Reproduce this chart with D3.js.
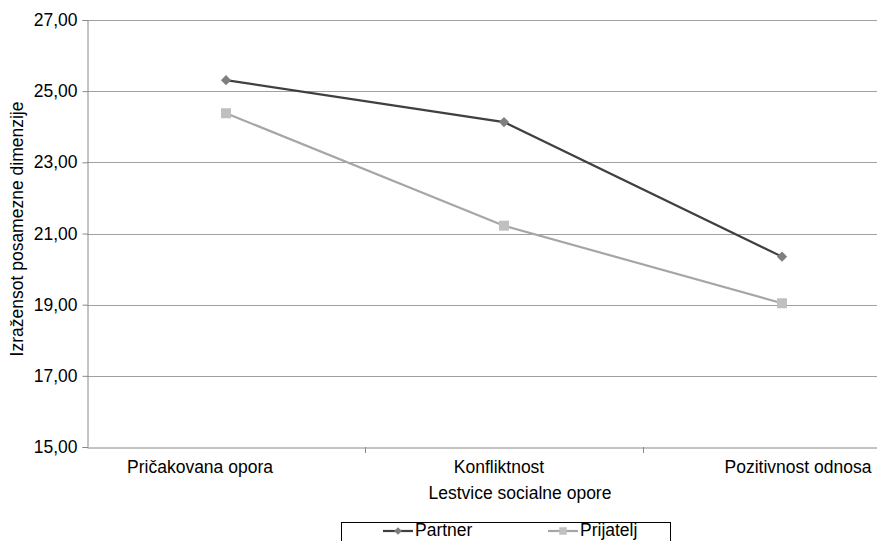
<!DOCTYPE html>
<html>
<head>
<meta charset="utf-8">
<script src="https://cdn.jsdelivr.net/npm/d3@7"></script>
<style>
  html, body { margin: 0; padding: 0; background: #fff; }
  svg { display: block; font-family: "Liberation Sans", Arial, sans-serif; }
</style>
</head>
<body>
<svg id="chart" width="877" height="541"></svg>
<script>
const categories = ["Pričakovana opora", "Konfliktnost", "Pozitivnost odnosa"];
const partnerValues = [25.31, 24.13, 20.35];
const prijateljValues = [24.38, 21.22, 19.04];
const yTicks = [15, 17, 19, 21, 23, 25, 27];
const seriesNames = ["Partner", "Prijatelj"];
const yTitle = "Izražensot posamezne dimenzije";
const xTitle = "Lestvice socialne opore";

const FS = 17.5;
const series = [
  { name: seriesNames[0], values: partnerValues, line: "#404040", marker: "#7f7f7f", diamond: true, size: 52, lsize: 30 },
  { name: seriesNames[1], values: prijateljValues, line: "#a6a6a6", marker: "#c0c0c0", diamond: false, size: 100, lsize: 56 }
];

const svg = d3.select("#chart");
const plotLeft = 87, plotRight = 921, plotTop = 20, plotBottom = 447;

const x = d3.scaleBand().domain(categories).range([plotLeft, plotRight]);
const xLabel = d3.scaleBand().domain(categories).range([50.5, 947.5]);
const y = d3.scaleLinear().domain([15, 27]).range([plotBottom, plotTop]);
const fmt = v => d3.format(".2f")(v).replace(".", ",");

// gridlines
svg.append("g").selectAll("line").data(yTicks.filter(t => t > 15)).join("line")
  .attr("x1", plotLeft).attr("x2", plotRight)
  .attr("y1", d => Math.round(y(d)) + 0.5).attr("y2", d => Math.round(y(d)) + 0.5)
  .attr("stroke", "#a0a0a0").attr("stroke-width", 1);

// y axis
const yAxis = svg.append("g").attr("transform", `translate(${plotLeft + 0.5},0)`)
  .call(d3.axisLeft(y).tickValues(yTicks).tickFormat(fmt).tickSizeOuter(0).tickSize(5).tickPadding(5));
yAxis.select(".domain").attr("stroke", "#888");
yAxis.selectAll(".tick line").attr("stroke", "#888");
yAxis.selectAll("text").attr("font-size", FS).attr("fill", "#000")
  .attr("font-family", "Liberation Sans, Arial, sans-serif");

// x axis line
const xAxis = svg.append("g").attr("transform", `translate(0,${plotBottom + 0.5})`)
  .call(d3.axisBottom(x).tickSize(0).tickSizeOuter(0).tickFormat(""));
xAxis.select(".domain").attr("stroke", "#888");
// category boundary ticks
svg.append("g").selectAll("line").data(categories.slice(1)).join("line")
  .attr("x1", d => Math.round(x(d)) + 0.5).attr("x2", d => Math.round(x(d)) + 0.5)
  .attr("y1", plotBottom).attr("y2", plotBottom + 6)
  .attr("stroke", "#888");
// category labels
svg.append("g").selectAll("text").data(categories).join("text")
  .attr("x", d => xLabel(d) + xLabel.bandwidth() / 2)
  .attr("y", 473)
  .attr("text-anchor", "middle").attr("font-size", FS).attr("fill", "#000")
  .text(d => d);

// lines
const symFor = (s, size) => d3.symbol().type(d3.symbolSquare).size(size)();
const line = d3.line().x((d, i) => x(categories[i]) + x.bandwidth() / 2).y(d => y(d));
series.forEach(s => {
  svg.append("path").datum(s.values)
    .attr("d", line).attr("fill", "none")
    .attr("stroke", s.line).attr("stroke-width", 2.2);
  svg.append("g").selectAll("path").data(s.values).join("path")
    .attr("transform", (d, i) => `translate(${x(categories[i]) + x.bandwidth() / 2},${y(d)})` + (s.diamond ? " rotate(45)" : ""))
    .attr("d", symFor(s, s.size))
    .attr("fill", s.marker);
});

// titles
svg.append("text")
  .attr("transform", `translate(23,229) rotate(-90)`)
  .attr("text-anchor", "middle").attr("font-size", FS).text(yTitle);
svg.append("text")
  .attr("x", 520).attr("y", 499)
  .attr("text-anchor", "middle").attr("font-size", FS).text(xTitle);

// legend
const lg = svg.append("g");
lg.append("rect").attr("x", 341.5).attr("y", 522.5).attr("width", 329).attr("height", 30)
  .attr("fill", "#fff").attr("stroke", "#000").attr("stroke-width", 1);
const legendX = [383, 548];
series.forEach((s, i) => {
  const g = lg.append("g").attr("transform", `translate(${legendX[i]},531)`);
  g.append("line").attr("x1", 0).attr("x2", 30).attr("y1", 0).attr("y2", 0)
    .attr("stroke", s.line).attr("stroke-width", 2.2);
  g.append("path").attr("transform", "translate(15,0)" + (s.diamond ? " rotate(45)" : ""))
    .attr("d", symFor(s, s.lsize))
    .attr("fill", s.marker);
  g.append("text").attr("x", 32).attr("y", 5).attr("font-size", FS).text(s.name);
});
</script>
</body>
</html>
